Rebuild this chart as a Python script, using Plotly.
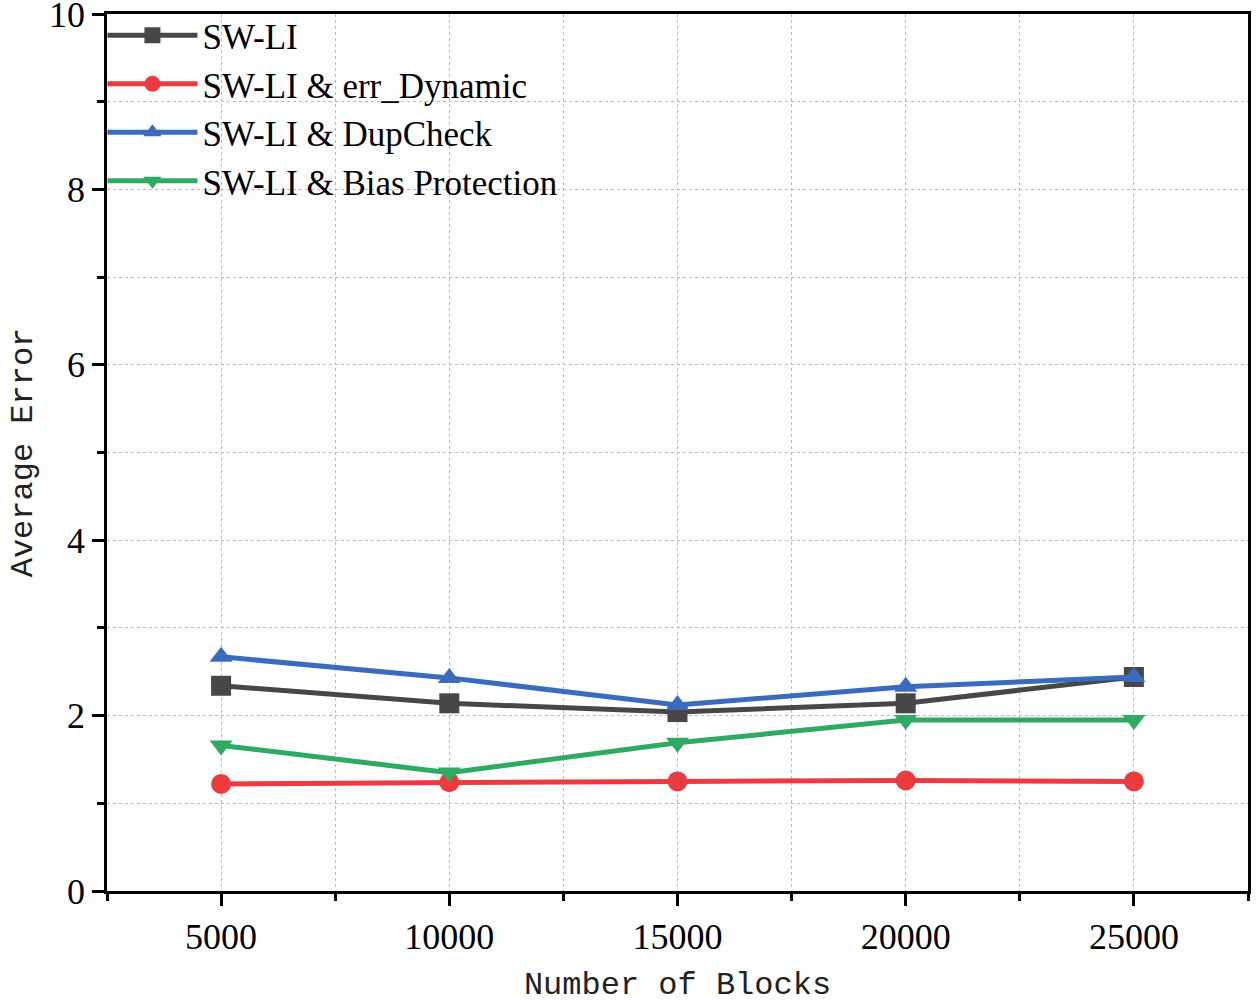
import plotly.graph_objects as go

blocks = [5000, 10000, 15000, 20000, 25000]
sw_li = [2.34, 2.14, 2.04, 2.14, 2.44]
sw_err_dynamic = [1.22, 1.24, 1.25, 1.26, 1.25]
sw_dupcheck = [2.67, 2.43, 2.12, 2.33, 2.44]
sw_bias = [1.66, 1.35, 1.69, 1.95, 1.95]

series = [
    ("SW-LI", sw_li, "#474747", "square"),
    ("SW-LI & err_Dynamic", sw_err_dynamic, "#EB3A40", "circle"),
    ("SW-LI & DupCheck", sw_dupcheck, "#3A6BBD", "triangle-up"),
    ("SW-LI & Bias Protection", sw_bias, "#2EAA62", "triangle-down"),
]

fig = go.Figure()
for name, vals, color, sym in series:
    fig.add_trace(go.Scatter(
        x=blocks, y=vals, name=name, mode="lines+markers",
        line=dict(color=color, width=5),
        marker=dict(symbol=sym, size=20, color=color),
    ))

axis_common = dict(
    showline=True, linecolor="black", linewidth=2.5, mirror=True,
    ticks="outside", ticklen=12, tickwidth=2.5, tickcolor="black",
    showgrid=True, gridcolor="#BBBBBB", griddash="dot", gridwidth=1,
    zeroline=False, automargin=False, ticklabeloverflow="allow",
    tickfont=dict(family="Liberation Serif", size=36, color="black"),
    title_font=dict(family="Liberation Mono", size=32, color="#222222"),
)

fig.update_xaxes(
    **axis_common,
    range=[2500, 27500], tickvals=blocks, ticktext=[str(b) for b in blocks],
    minor=dict(ticks="outside", ticklen=7, tickwidth=2.5, tickcolor="black",
               tickvals=[2500, 7500, 12500, 17500, 22500, 27500],
               showgrid=True, gridcolor="#BBBBBB", griddash="dot", gridwidth=1),
    title_text="Number of Blocks", title_standoff=24,
)
fig.update_yaxes(
    **axis_common,
    range=[0, 10], tickvals=[0, 2, 4, 6, 8, 10],
    minor=dict(ticks="outside", ticklen=7, tickwidth=2.5, tickcolor="black",
               tickvals=[1, 3, 5, 7, 9],
               showgrid=True, gridcolor="#BBBBBB", griddash="dot", gridwidth=1),
    title_text="Average Error", title_standoff=7,
)

fig.update_layout(
    width=1256, height=1004,
    margin=dict(l=107, r=8, t=14, b=113, autoexpand=False),
    plot_bgcolor="white", paper_bgcolor="white",
    showlegend=True,
    legend=dict(
        x=-0.004, y=1.009, xanchor="left", yanchor="top",
        bgcolor="rgba(0,0,0,0)", borderwidth=0,
        font=dict(family="Liberation Serif", size=35, color="black"),
        itemwidth=90, tracegroupgap=0,
    ),
)

fig.write_html(
    "out.html",
    config={"displayModeBar": False},
    post_script="document.body.style.margin='0';document.body.style.overflow='hidden';",
)
